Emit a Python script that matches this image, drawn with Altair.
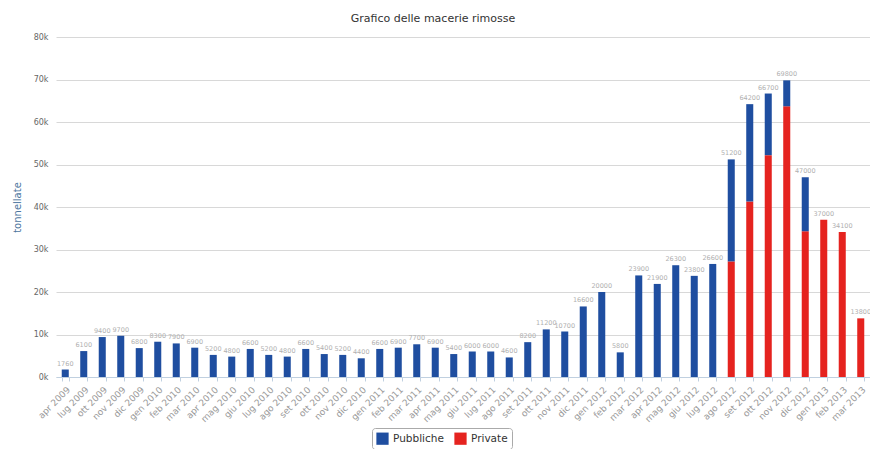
import altair as alt
import pandas as pd

months = [
    "apr 2009", "lug 2009", "ott 2009", "nov 2009", "dic 2009",
    "gen 2010", "feb 2010", "mar 2010", "apr 2010", "mag 2010", "giu 2010",
    "lug 2010", "ago 2010", "set 2010", "ott 2010", "nov 2010", "dic 2010",
    "gen 2011", "feb 2011", "mar 2011", "apr 2011", "mag 2011", "giu 2011",
    "lug 2011", "ago 2011", "set 2011", "ott 2011", "nov 2011", "dic 2011",
    "gen 2012", "feb 2012", "mar 2012", "apr 2012", "mag 2012", "giu 2012",
    "lug 2012", "ago 2012", "set 2012", "ott 2012", "nov 2012", "dic 2012",
    "gen 2013", "feb 2013", "mar 2013",
]

pubbliche = [
    1760, 6100, 9400, 9700, 6800,
    8300, 7900, 6900, 5200, 4800, 6600,
    5200, 4800, 6600, 5400, 5200, 4400,
    6600, 6900, 7700, 6900, 5400, 6000,
    6000, 4600, 8200, 11200, 10700, 16600,
    20000, 5800, 23900, 21900, 26300, 23800,
    26600, 24000, 22900, 14500, 6100, 12700,
    0, 0, 0,
]

private = [0] * 36 + [27200, 41300, 52200, 63700, 34300, 37000, 34100, 13800]

series = ["Pubbliche", "Private"]
colors = ["#1f4ea0", "#e5231f"]

rows = []
for m, pu, pr in zip(months, pubbliche, private):
    if pr > 0:
        rows.append({"mese": m, "serie": "Private", "ordine": 0, "valore": pr})
    if pu > 0:
        rows.append({"mese": m, "serie": "Pubbliche", "ordine": 1, "valore": pu})
df = pd.DataFrame(rows)

tot = pd.DataFrame({"mese": months, "totale": [a + b for a, b in zip(pubbliche, private)]})

FONT = "DejaVu Sans"

x = alt.X(
    "mese:N",
    sort=months,
    scale=alt.Scale(domain=months, paddingInner=0.62, paddingOuter=0.31),
    axis=alt.Axis(
        title=None,
        labelAngle=-45,
        labelFontSize=9,
        labelColor="#999999",
        labelFont=FONT,
        labelPadding=4,
        tickBand="extent",
        tickSize=4,
        tickColor="#c0d0e0",
        domain=True,
        domainColor="#c0d0e0",
        grid=False,
    ),
)

bars = alt.Chart(df).mark_bar().encode(
    x=x,
    y=alt.Y(
        "valore:Q",
        stack="zero",
        scale=alt.Scale(domain=[0, 80000], nice=False),
        axis=alt.Axis(
            title="tonnellate",
            titleColor="#4d759e",
            titleFontSize=10,
            titleFontWeight="normal",
            titleFont=FONT,
            titleX=-34,
            titleY=170,
            values=[0, 10000, 20000, 30000, 40000, 50000, 60000, 70000, 80000],
            labelExpr="(datum.value/1000) + 'k'",
            labelFontSize=8,
            labelColor="#666666",
            labelFont=FONT,
            labelPadding=8,
            ticks=False,
            domain=False,
            gridColor="#d8d8d8",
            gridWidth=1,
        ),
    ),
    color=alt.Color(
        "serie:N",
        scale=alt.Scale(domain=series, range=colors),
        legend=alt.Legend(
            title=None,
            orient="none",
            direction="horizontal",
            legendX=316,
            legendY=391,
            symbolType="square",
            symbolSize=150,
            symbolStrokeWidth=0,
            labelFontSize=10.5,
            labelFont=FONT,
            labelColor="#333333",
            columnPadding=10,
            padding=4,
            strokeColor="#aaaaaa",
            cornerRadius=3,
        ),
    ),
    order=alt.Order("ordine:Q"),
)

labels = alt.Chart(tot).mark_text(
    dy=-6, fontSize=6.5, color="#b0b0b0", font=FONT
).encode(
    x=alt.X("mese:N", sort=months),
    y=alt.Y("totale:Q"),
    text=alt.Text("totale:Q", format="d"),
)

chart = (
    alt.layer(bars, labels)
    .properties(
        width=814,
        height=340,
        autosize=alt.AutoSizeParams(type="none"),
        padding={"left": 48, "top": 29, "right": 0, "bottom": 72},
        title=alt.TitleParams(
            text="Grafico delle macerie rimosse",
            fontSize=11,
            font=FONT,
            fontWeight="normal",
            color="#333333",
            offset=9,
            dx=-30,
        ),
    )
    .configure_view(stroke=None)
)

chart.save("out.html", embed_options={"renderer": "svg", "actions": False})
